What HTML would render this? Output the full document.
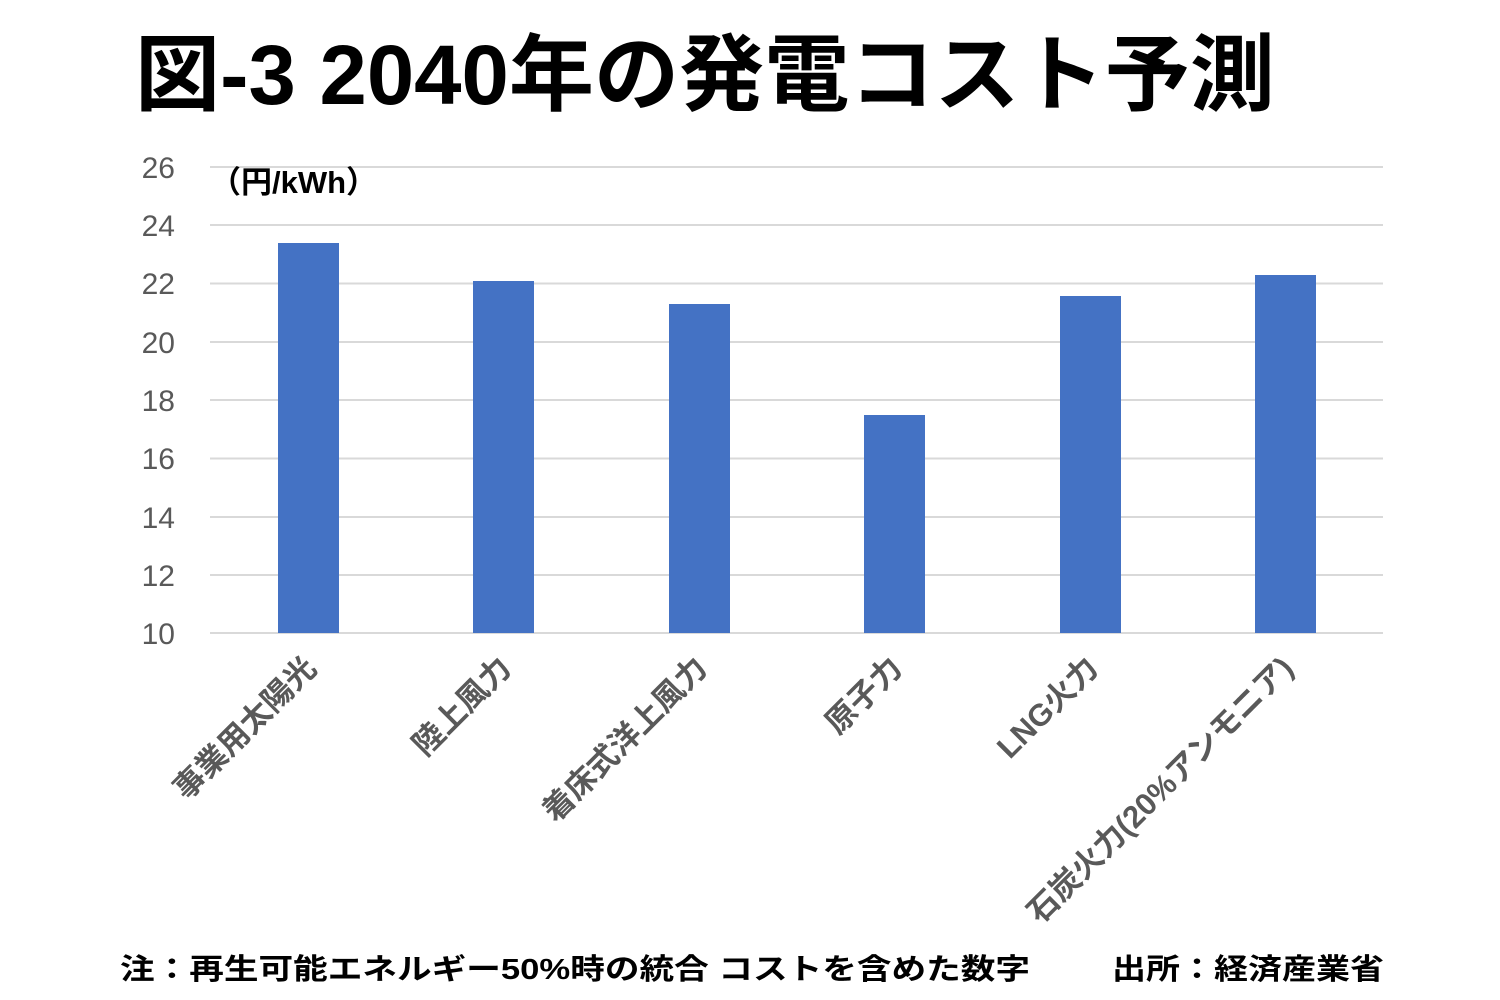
<!DOCTYPE html>
<html><head><meta charset="utf-8"><style>
html,body{margin:0;padding:0;background:#fff;}
svg{display:block;}
</style></head><body>
<svg width="1500" height="1000" xmlns="http://www.w3.org/2000/svg" font-family="'Liberation Sans','Noto Sans CJK JP',sans-serif">
<rect width="1500" height="1000" fill="#fff"/>
<text x="135" y="104" font-size="84" font-weight="bold" fill="#000" textLength="1140" lengthAdjust="spacingAndGlyphs">図-3 2040年の発電コスト予測</text>
<g stroke="#d9d9d9" stroke-width="2">
<line x1="210" x2="1383" y1="167" y2="167"/>
<line x1="210" x2="1383" y1="225" y2="225"/>
<line x1="210" x2="1383" y1="283.5" y2="283.5"/>
<line x1="210" x2="1383" y1="342" y2="342"/>
<line x1="210" x2="1383" y1="400" y2="400"/>
<line x1="210" x2="1383" y1="458.5" y2="458.5"/>
<line x1="210" x2="1383" y1="517" y2="517"/>
<line x1="210" x2="1383" y1="575" y2="575"/>
<line x1="210" x2="1383" y1="633" y2="633"/>
</g>
<g font-size="30" fill="#595959" text-anchor="end">
<text x="175" y="178">26</text>
<text x="175" y="236">24</text>
<text x="175" y="294">22</text>
<text x="175" y="353">20</text>
<text x="175" y="411">18</text>
<text x="175" y="469">16</text>
<text x="175" y="528">14</text>
<text x="175" y="586">12</text>
<text x="175" y="644">10</text>
</g>
<text x="210" y="193" font-size="31" font-weight="bold" fill="#000">（円/kWh）</text>
<g fill="#4472c4">
<rect x="278" y="243" width="61" height="390"/>
<rect x="473" y="281" width="61" height="352"/>
<rect x="669" y="304" width="61" height="329"/>
<rect x="864" y="415" width="61" height="218"/>
<rect x="1060" y="296" width="61" height="337"/>
<rect x="1255" y="275" width="61" height="358"/>
</g>
<g font-size="31" font-weight="bold" fill="#595959" text-anchor="end">
<text transform="translate(318,670) rotate(-45)">事業用太陽光</text>
<text transform="translate(513,670) rotate(-45)">陸上風力</text>
<text transform="translate(709,670) rotate(-45)">着床式洋上風力</text>
<text transform="translate(904,670) rotate(-45)">原子力</text>
<text transform="translate(1100,670) rotate(-45)">LNG火力</text>
<text transform="translate(1295,670) rotate(-45)">石炭火力(20%アンモニア)</text>
</g>
<text x="120" y="979" font-size="29" font-weight="bold" fill="#000" textLength="910" lengthAdjust="spacingAndGlyphs">注：再生可能エネルギー50%時の統合 コストを含めた数字</text>
<text x="1112" y="979" font-size="29" font-weight="bold" fill="#000" textLength="272" lengthAdjust="spacingAndGlyphs">出所：経済産業省</text>
</svg>
</body></html>
